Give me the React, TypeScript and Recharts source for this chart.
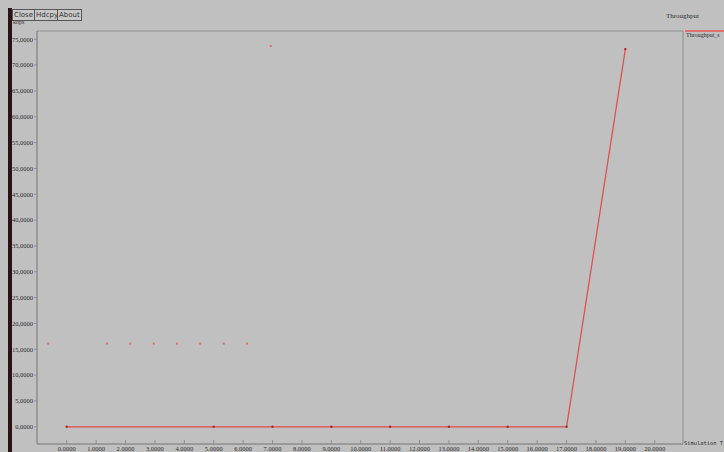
import {
  ComposedChart,
  Line,
  Scatter,
  XAxis,
  YAxis,
  ReferenceArea,
} from 'recharts';

// main throughput trace (time in s, kbps)
const timeValues = [0, 5, 7, 9, 11, 13, 15, 17, 19];
const throughputValues = [0, 0, 0, 0, 0, 0, 0, 0, 73.1];

// stray points drawn by the tool
const strayTimes = [-0.63, 1.37, 2.16, 2.96, 3.75, 4.54, 5.34, 6.13, 6.94];
const strayValues = [16.1, 16.1, 16.1, 16.1, 16.1, 16.1, 16.1, 16.1, 73.7];

const xTicks = [0, 1, 2, 3, 4, 5, 6, 7, 8, 9, 10, 11, 12, 13, 14, 15, 16, 17, 18, 19, 20];
const yTicks = [0, 5, 10, 15, 20, 25, 30, 35, 40, 45, 50, 55, 60, 65, 70, 75];

const lineData = timeValues.map((t, i) => ({ t, v: throughputValues[i] }));
const strayData = strayTimes.map((t, i) => ({ t, v: strayValues[i] }));

const BG = '#c0c0c0';
const AXIS = '#8e8e8e';
const LABEL = '#2e2e2e';

const buttonStyle: React.CSSProperties = {
  position: 'absolute',
  top: 9,
  height: 10,
  border: '1px solid #555',
  fontSize: 7,
  lineHeight: '10px',
  padding: '0 1px',
  color: '#333',
  fontFamily: 'DejaVu Sans',
  background: '#c8c8c8',
};

function StrayDot(props: { cx?: number; cy?: number }) {
  const { cx = 0, cy = 0 } = props;
  return <rect x={cx - 1} y={cy - 1} width={2} height={2} fill="#e07070" />;
}

export default function App() {
  return (
    <div
      style={{
        position: 'absolute',
        left: 0,
        top: 0,
        width: 724,
        height: 452,
        background: BG,
        overflow: 'hidden',
        fontFamily: 'Liberation Serif',
      }}
    >
      {/* window edge */}
      <div style={{ position: 'absolute', left: 8, top: 8, width: 4, height: 444, background: '#2a1216' }} />

      <div style={{ ...buttonStyle, left: 12, width: 19 }}>Close</div>
      <div style={{ ...buttonStyle, left: 34, width: 20 }}>Hdcpy</div>
      <div style={{ ...buttonStyle, left: 57, width: 21 }}>About</div>
      <div style={{ position: 'absolute', left: 13, top: 19, fontSize: 6, color: LABEL }}>kbps</div>

      <div style={{ position: 'absolute', left: 0, top: 0 }}>
        <ComposedChart
          width={724}
          height={452}
          margin={{ top: 31, right: 41, left: 0, bottom: 0 }}
        >
          <XAxis
            xAxisId="b"
            type="number"
            dataKey="t"
            domain={[-1.01, 20.96]}
            ticks={xTicks}
            allowDataOverflow
            height={8}
            interval={0}
            tickSize={-4}
            tickMargin={6}
            stroke={AXIS}
            tick={{ fill: LABEL, fontSize: 6.5 }}
            tickFormatter={(v: number) => v.toFixed(4)}
          />
          <XAxis
            xAxisId="t"
            orientation="top"
            type="number"
            dataKey="t"
            domain={[-1.01, 20.96]}
            ticks={xTicks}
            allowDataOverflow
            height={0}
            tickSize={-3}
            stroke={AXIS}
            tick={{ fontSize: 0 }}
            tickFormatter={() => ''}
          />
          <YAxis
            yAxisId="l"
            type="number"
            domain={[-3.33, 76.6]}
            ticks={yTicks}
            allowDataOverflow
            width={37}
            interval={0}
            tickSize={3}
            tickMargin={1}
            stroke={AXIS}
            tick={{ fill: LABEL, fontSize: 6.5 }}
            tickFormatter={(v: number) => v.toFixed(4).replace('.', ',')}
          />
          <YAxis
            yAxisId="r"
            orientation="right"
            type="number"
            domain={[-3.33, 76.6]}
            ticks={yTicks}
            allowDataOverflow
            width={0}
            tickSize={-3}
            stroke={AXIS}
            tick={{ fontSize: 0 }}
            tickFormatter={() => ''}
          />
          <ReferenceArea
            xAxisId="b"
            yAxisId="l"
            x1={-1.01}
            x2={20.96}
            y1={-3.33}
            y2={76.6}
            fill="none"
            stroke={AXIS}
            strokeWidth={1}
            ifOverflow="visible"
          />
          <Scatter
            xAxisId="b"
            yAxisId="l"
            data={strayData}
            dataKey="v"
            shape={<StrayDot />}
            isAnimationActive={false}
          />
          <Line
            xAxisId="b"
            yAxisId="l"
            data={lineData}
            dataKey="v"
            type="linear"
            stroke="#e04a4a"
            strokeWidth={1.2}
            dot={{ r: 1.2, fill: '#b02828', stroke: 'none' }}
            isAnimationActive={false}
          />
        </ComposedChart>
      </div>

      {/* legend panel */}
      <div style={{ position: 'absolute', left: 666, top: 12, fontSize: 7, color: LABEL }}>Throughput</div>
      <div style={{ position: 'absolute', left: 685, top: 30, width: 40, height: 2, background: '#e07070' }} />
      <div style={{ position: 'absolute', left: 686, top: 32, fontSize: 6, color: LABEL, whiteSpace: 'nowrap' }}>
        Throughput_s
      </div>
      <div
        style={{
          position: 'absolute',
          left: 684,
          top: 440,
          fontSize: 5.4,
          color: LABEL,
          whiteSpace: 'nowrap',
          fontFamily: 'DejaVu Sans Mono',
        }}
      >
        Simulation T
      </div>
    </div>
  );
}
